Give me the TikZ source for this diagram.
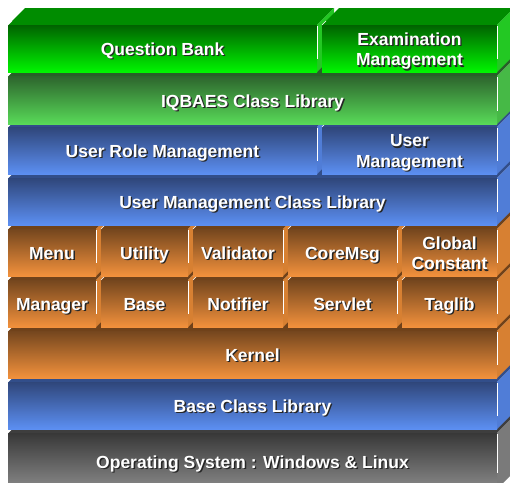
\documentclass[tikz,border=0pt]{standalone}
\usepackage{fontspec}
\setmainfont{Liberation Sans}

% colour sets: Top = top face, Hi/Lo = front gradient, Side = right face
\definecolor{grnATop}{RGB}{0,140,0}
\definecolor{grnAHi}{RGB}{0,98,0}
\definecolor{grnALo}{RGB}{0,245,0}
\definecolor{grnASide}{RGB}{35,200,35}
\definecolor{grnBTop}{RGB}{40,95,40}
\definecolor{grnBHi}{RGB}{45,100,45}
\definecolor{grnBLo}{RGB}{88,218,88}
\definecolor{grnBSide}{RGB}{70,185,70}
\definecolor{bluTop}{RGB}{50,78,138}
\definecolor{bluHi}{RGB}{47,70,122}
\definecolor{bluLo}{RGB}{92,143,242}
\definecolor{bluSide}{RGB}{80,125,215}
\definecolor{orgTop}{RGB}{112,66,26}
\definecolor{orgHi}{RGB}{116,70,30}
\definecolor{orgLo}{RGB}{242,145,60}
\definecolor{orgSide}{RGB}{215,128,50}
\definecolor{gryTop}{RGB}{62,62,62}
\definecolor{gryHi}{RGB}{56,56,56}
\definecolor{gryLo}{RGB}{136,136,136}
\definecolor{grySide}{RGB}{122,122,122}

% strut centred on the cap height
\newcommand{\capstrut}{\rule[-4.2pt]{0pt}{16.8pt}}

\tikzset{
  labeltext/.style={text=white, font=\bfseries\fontsize{17.5}{20.5}\selectfont,
    align=center, inner sep=0pt, yshift=-2.8pt,
    execute at begin node=\capstrut, execute at end node=\capstrut},
  shadowtext/.style={labeltext, text=black!85}
}

% #1 x left, #2 x right, #3 y top, #4 y bottom, #5 colour set, #6 name, #7 text
\newcommand{\layerbox}[7]{%
  \fill[#5Top] (#1,#3) -- (#2,#3) -- ++(17,-17) -- (#1+17,#3-17) -- cycle;
  \fill[#5Side] (#2,#3) -- ++(17,-17) -- (#2+17,#4-17) -- (#2,#4) -- cycle;
  \shade[top color=#5Hi, bottom color=#5Lo] (#1,#3) rectangle (#2,#4);
  \draw[white, line width=0.8pt] (#2+0.5,#3+1) -- (#2+0.5,{#3+0.72*(#4-#3)});
  \draw[white, line width=0.6pt] (#1,#3) -- ++(4,-4);
  \node[shadowtext] (#6s) at ({(#1+#2)/2+1.4},{(#3+#4)/2+1.4}) {#7};
  \node[labeltext] (#6) at ({(#1+#2)/2},{(#3+#4)/2}) {#7};
}

\begin{document}
\begin{tikzpicture}[x=1pt, y=-1pt]
  \useasboundingbox (0,0) rectangle (510,482);
  \clip (0,0) rectangle (510,482);

  % operating system and libraries
  \layerbox{8}{497}{433}{489}{gry}{os}{Operating System : Windows \& Linux}
  \layerbox{8}{497}{382}{429}{blu}{baselib}{Base Class Library}
  \layerbox{8}{497}{331}{378}{org}{kernel}{Kernel}

  % kernel modules
  \layerbox{8}{96}{280}{327}{org}{manager}{Manager}
  \layerbox{101}{188}{280}{327}{org}{base}{Base}
  \layerbox{193}{283}{280}{327}{org}{notifier}{Notifier}
  \layerbox{288}{397}{280}{327}{org}{servlet}{Servlet}
  \layerbox{402}{497}{280}{327}{org}{taglib}{Taglib}

  \layerbox{8}{96}{229}{276}{org}{menu}{Menu}
  \layerbox{101}{188}{229}{276}{org}{utility}{Utility}
  \layerbox{193}{283}{229}{276}{org}{validator}{Validator}
  \layerbox{288}{397}{229}{276}{org}{coremsg}{CoreMsg}
  \layerbox{402}{497}{229}{276}{org}{globconst}{Global\\Constant}

  % user management
  \layerbox{8}{497}{178}{225}{blu}{umlib}{User Management Class Library}
  \layerbox{8}{317}{127}{174}{blu}{rolemgmt}{User Role Management}
  \layerbox{322}{497}{127}{174}{blu}{usermgmt}{User\\Management}

  % application
  \layerbox{8}{497}{76}{124}{grnB}{iqbaes}{IQBAES Class Library}
  \layerbox{8}{317}{25}{72}{grnA}{qbank}{Question Bank}
  \layerbox{322}{497}{25}{72}{grnA}{exam}{Examination\\Management}
\end{tikzpicture}
\end{document}
